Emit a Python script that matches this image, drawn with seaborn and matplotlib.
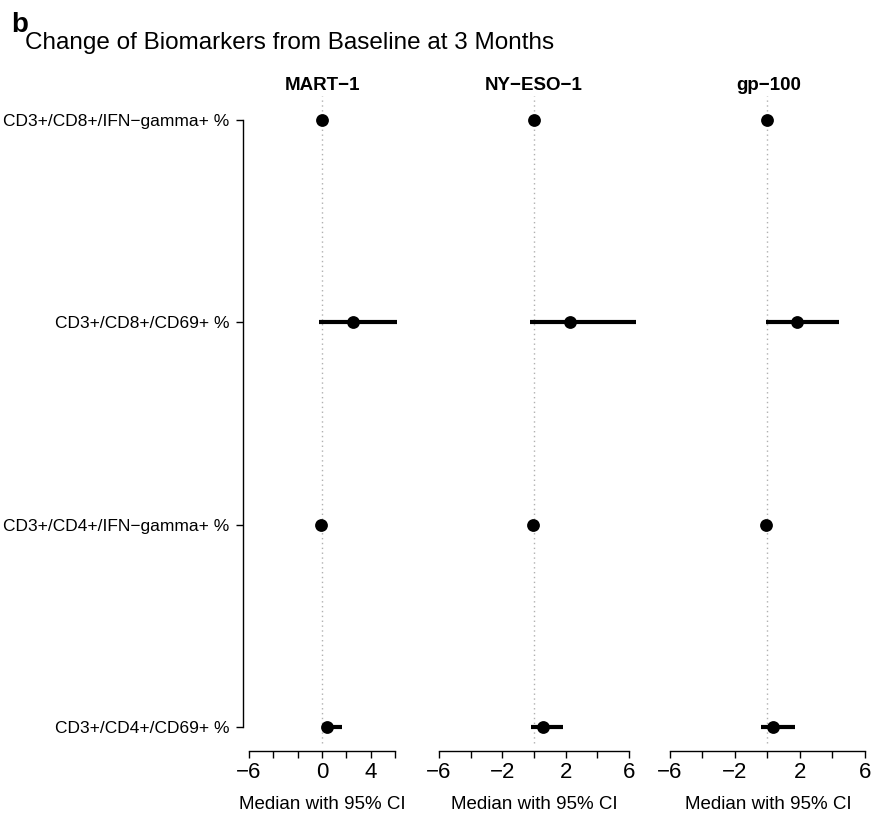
import numpy as np
import pandas as pd
import matplotlib
matplotlib.use("Agg")
import matplotlib.pyplot as plt
import seaborn as sns

# ----------------------------
# data
# ----------------------------
markers = ["CD3+/CD8+/IFN\u2212gamma+ %", "CD3+/CD8+/CD69+ %",
           "CD3+/CD4+/IFN\u2212gamma+ %", "CD3+/CD4+/CD69+ %"]
antigens = ["MART\u22121", "NY\u2212ESO\u22121", "gp\u2212100"]

mart_median = [0.0, 2.5, -0.05, 0.4]
mart_lower = [-0.05, -0.25, -0.08, 0.05]
mart_upper = [0.05, 6.1, -0.02, 1.6]

nyeso_median = [0.0, 2.3, -0.05, 0.55]
nyeso_lower = [-0.05, -0.25, -0.1, -0.2]
nyeso_upper = [0.05, 6.45, 0.0, 1.85]

gp_median = [0.0, 1.85, -0.05, 0.35]
gp_lower = [-0.05, -0.05, -0.1, -0.4]
gp_upper = [0.35, 4.4, 0.0, 1.7]

xticks = [-6, -4, -2, 0, 2, 4, 6]
xticklabels = [["\u22126", "", "", "0", "", "4", ""],
               ["\u22126", "", "\u22122", "", "2", "", "6"],
               ["\u22126", "", "\u22122", "", "2", "", "6"]]

frames = []
for name, med, lo, hi in zip(antigens,
                             [mart_median, nyeso_median, gp_median],
                             [mart_lower, nyeso_lower, gp_lower],
                             [mart_upper, nyeso_upper, gp_upper]):
    frames.append(pd.DataFrame({"antigen": name, "marker": markers,
                                "row": np.arange(len(markers)),
                                "median": med, "lower": lo, "upper": hi}))
df = pd.concat(frames, ignore_index=True)

# ----------------------------
# style
# ----------------------------
sns.set_style("white")
plt.rcParams["font.family"] = ["Liberation Sans", "DejaVu Sans"]
plt.rcParams.update({"text.color": "black", "axes.labelcolor": "black",
                     "xtick.color": "black", "ytick.color": "black"})

W, H = 872, 813
fig = plt.figure(figsize=(W / 100, H / 100), dpi=100)

# axes boxes in pixels: (left, right)
boxes = [(243, 401), (431, 637), (665, 872)]
xlims = [(-6.45, 6.45), (-6.5, 6.5), (-6.3, 6.45)]
top_px, bot_px = 96, 751

for i, (name, (l, r), xl) in enumerate(zip(antigens, boxes, xlims)):
    ax = fig.add_axes([l / W, 1 - bot_px / H, (r - l) / W, (bot_px - top_px) / H])
    sub = df[df["antigen"] == name]
    ax.axvline(0, ymin=0.012, ymax=1, color="#b0b0b0", lw=1, ls=(0, (1, 2.5)), zorder=1)
    ax.hlines(sub["row"], sub["lower"], sub["upper"], color="black", lw=3, zorder=2)
    sns.scatterplot(data=sub, x="median", y="row", ax=ax, color="black",
                    s=85, edgecolor="black", linewidth=0, zorder=3, legend=False)
    ax.set_xlim(*xl)
    ax.set_ylim(3.12, -0.12)
    for s in ["top", "right"]:
        ax.spines[s].set_visible(False)
    ax.spines["bottom"].set_bounds(-6, 6)
    ax.spines["bottom"].set_linewidth(1)
    ax.spines["bottom"].set_color("black")
    ax.set_xticks(xticks)
    ax.set_xticklabels(xticklabels[i], fontsize=16)
    ax.tick_params(axis="x", direction="out", length=5, width=1, color="black", pad=3,
                   bottom=True)
    ax.set_xlabel("Median with 95% CI", fontsize=13.5, labelpad=9)
    if i == 0:
        ax.spines["left"].set_bounds(0, 3)
        ax.spines["left"].set_linewidth(1)
        ax.spines["left"].set_color("black")
        ax.set_yticks(range(len(markers)))
        ax.set_yticklabels(markers, fontsize=12.5)
        ax.tick_params(axis="y", direction="out", length=5, width=1, color="black",
                       pad=5, left=True)
    else:
        ax.spines["left"].set_visible(False)
        ax.set_yticks([])
    ax.set_ylabel("")
    ax.set_title(name, fontsize=13.5, fontweight="bold", pad=4)

fig.text(11 / W, 1 - 32 / H, "b", fontsize=20, fontweight="bold", va="baseline")
fig.text(25 / W, 1 - 49 / H, "Change of Biomarkers from Baseline at 3 Months",
         fontsize=17.5, va="baseline")

fig.savefig("out.png", dpi=100)
